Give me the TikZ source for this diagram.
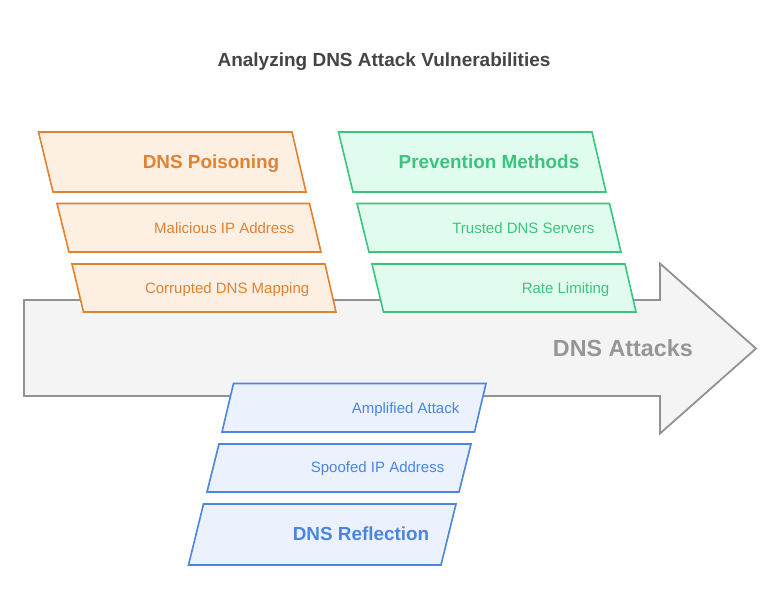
\documentclass[tikz,border=0pt]{standalone}
\usepackage{fontspec}
\setmainfont{Liberation Sans}
\definecolor{orS}{RGB}{225,130,50}
\definecolor{orF}{RGB}{253,239,226}
\definecolor{grS}{RGB}{60,196,125}
\definecolor{grF}{RGB}{224,252,238}
\definecolor{blS}{RGB}{74,134,224}
\definecolor{blF}{RGB}{235,242,254}
\definecolor{arS}{RGB}{146,146,146}
\definecolor{arF}{RGB}{244,244,244}
\definecolor{titleC}{RGB}{68,68,68}
\definecolor{bigC}{RGB}{150,150,150}
\tikzset{
  orbox/.style={draw=orS, fill=orF, line width=1.6pt, line join=miter},
  grbox/.style={draw=grS, fill=grF, line width=1.6pt, line join=miter},
  blbox/.style={draw=blS, fill=blF, line width=1.6pt, line join=miter},
  arrowbody/.style={draw=arS, fill=arF, line width=1.8pt, line join=miter},
  lbl/.style={inner sep=0pt, anchor=base east, font=\fontsize{15}{18}\selectfont},
  head/.style={inner sep=0pt, anchor=base east, font=\fontsize{18.9}{22}\selectfont\bfseries},
}
\begin{document}
\begin{tikzpicture}[x=1pt,y=-1pt]
\useasboundingbox (0,0) rectangle (780,614);
\fill[white] (0,0) rectangle (780,614);
% big arrow
\draw[arrowbody] (24,300) -- (660,300) -- (660,263.5) -- (756,348.5) -- (660,433.5) -- (660,396) -- (24,396) -- cycle;
\node[inner sep=0pt, anchor=base east, text=bigC, font=\fontsize{23.3}{28}\selectfont\bfseries] (attacks) at (693,356.1) {DNS Attacks};
% orange
\draw[orbox] (38.5,132) -- (292,132) -- (306,192) -- (53,192) -- cycle;
\draw[orbox] (57,203.5) -- (309.5,203.5) -- (321,252) -- (69,252) -- cycle;
\draw[orbox] (72,264) -- (325,264) -- (336,312) -- (83.5,312) -- cycle;
\node[head, text=orS] (poison) at (279.5,168.4) {DNS Poisoning};
\node[lbl, text=orS] (malip) at (294.5,233.1) {Malicious IP Address};
\node[lbl, text=orS] (corrupt) at (309.5,293.1) {Corrupted DNS Mapping};
% green
\draw[grbox] (338.5,132) -- (592,132) -- (606,192) -- (353,192) -- cycle;
\draw[grbox] (357,203.5) -- (609.5,203.5) -- (621,252) -- (369,252) -- cycle;
\draw[grbox] (372,264) -- (625,264) -- (636,312) -- (383.5,312) -- cycle;
\node[head, text=grS] (prevent) at (579.5,168.4) {Prevention Methods};
\node[lbl, text=grS] (trusted) at (594.5,233.1) {Trusted DNS Servers};
\node[lbl, text=grS] (rate) at (609.5,293.1) {Rate Limiting};
% blue
\draw[blbox] (233.5,383.5) -- (486,383.5) -- (474.5,432) -- (222,432) -- cycle;
\draw[blbox] (219,444) -- (471,444) -- (459,492) -- (207,492) -- cycle;
\draw[blbox] (203.5,504) -- (456,504) -- (441,565) -- (188.5,565) -- cycle;
\node[lbl, text=blS] (ampl) at (459.5,413.1) {Amplified Attack};
\node[lbl, text=blS] (spoof) at (444.5,472.7) {Spoofed IP Address};
\node[head, text=blS] (reflect) at (429.5,540.7) {DNS Reflection};
% title
\node[inner sep=0pt, anchor=base, text=titleC, font=\fontsize{19}{23}\selectfont\bfseries] (title) at (384,66.8) {Analyzing DNS Attack Vulnerabilities};
\end{tikzpicture}
\end{document}
